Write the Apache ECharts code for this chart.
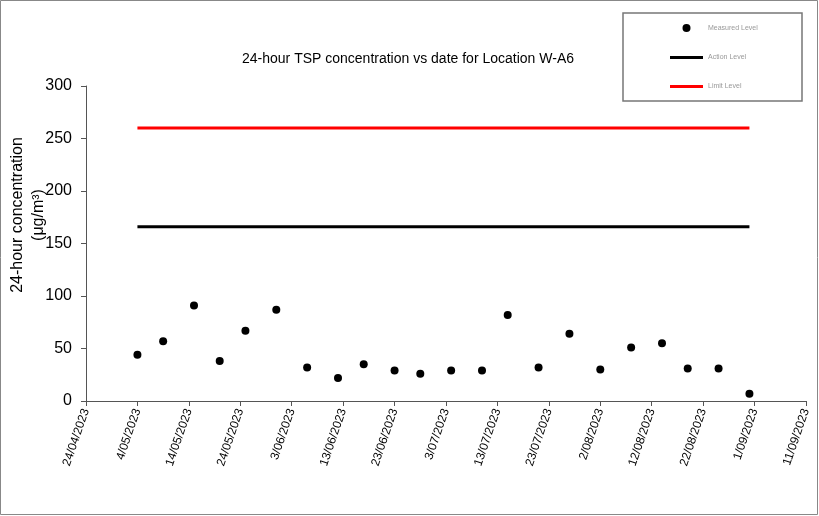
<!DOCTYPE html>
<html>
<head>
<meta charset="utf-8">
<script src="https://cdn.jsdelivr.net/npm/echarts@6/dist/echarts.min.js"></script>
<style>
html,body{margin:0;padding:0;background:#fff;}
#chart{width:819px;height:516px;}
</style>
</head>
<body>
<div id="chart"></div>
<script>
// ---- data ----
const sampleDates = ['2023-05-04','2023-05-09','2023-05-15','2023-05-20','2023-05-25','2023-05-31',
  '2023-06-06','2023-06-12','2023-06-17','2023-06-23','2023-06-28','2023-07-04','2023-07-10',
  '2023-07-15','2023-07-21','2023-07-27','2023-08-02','2023-08-08','2023-08-14','2023-08-19',
  '2023-08-25','2023-08-31'];
const measuredLevel = [44,57,91,38,67,87,32,22,35,29,26,29,29,82,32,64,30,51,55,31,31,7];
const actionLevel = 166;
const limitLevel = 260;
const axisStartDate = '2023-04-24';
const axisEndDate = '2023-09-11';
const tickDays = 10;
const yTicks = [0,50,100,150,200,250,300];

const DAY = 86400000;
function utc(s){ const p = s.split('-').map(Number); return Date.UTC(p[0], p[1]-1, p[2]); }
const base = utc(axisStartDate);
function off(s){ return Math.round((utc(s) - base) / DAY); }
function fmt(v){
  const d = new Date(base + v*DAY);
  const mm = String(d.getUTCMonth()+1).padStart(2,'0');
  return d.getUTCDate() + '/' + mm + '/' + d.getUTCFullYear();
}

const scatterData = sampleDates.map((d,i)=>[off(d), measuredLevel[i]]);
const first = off(sampleDates[0]), last = off(sampleDates[sampleDates.length-1]);

const chart = echarts.init(document.getElementById('chart'));
const axisLine = {show:true, lineStyle:{color:'#555', width:1}};
const barIcon = 'path://M0,0H100V9H0Z';
chart.setOption({
  backgroundColor:'#fff',
  animation:false,
  title:{
    text:'24-hour TSP concentration vs date for Location W-A6',
    left:403, top:47, textAlign:'center',
    textStyle:{fontFamily:'Liberation Sans, Arial', fontSize:14, fontWeight:'normal', color:'#000'}
  },
  legend:{
    orient:'vertical', left:670, top:24, padding:0, itemGap:22,
    itemWidth:33, itemHeight:8,
    textStyle:{fontFamily:'Liberation Sans, Arial', fontSize:7, color:'#999'},
    data:[{name:'Measured Level', icon:'circle'},{name:'Action Level', icon:barIcon},{name:'Limit Level', icon:barIcon}]
  },
  graphic:[
    {type:'rect', shape:{x:623, y:13, width:179, height:88}, style:{fill:'none', stroke:'#777', lineWidth:1.5}, silent:true},
    {type:'rect', shape:{x:0.5, y:0.5, width:817, height:514}, style:{fill:'none', stroke:'#888', lineWidth:1}, silent:true}
  ],
  grid:{left:86, right:13, top:86, bottom:115, containLabel:false, outerBoundsMode:'none'},
  xAxis:{
    type:'value', min:off(axisStartDate), max:off(axisEndDate), interval:tickDays,
    splitLine:{show:false}, axisLine:axisLine,
    axisTick:{show:true, length:5, lineStyle:{color:'#555'}},
    axisLabel:{rotate:71, formatter:fmt, fontFamily:'Liberation Sans, Arial', fontSize:12, color:'#000', margin:8}
  },
  yAxis:{
    type:'value', min:yTicks[0], max:yTicks[yTicks.length-1], interval:yTicks[1]-yTicks[0],
    splitLine:{show:false}, axisLine:axisLine,
    axisTick:{show:true, length:5, lineStyle:{color:'#555'}},
    axisLabel:{fontFamily:'Liberation Sans, Arial', fontSize:16, color:'#000', margin:14},
    name:'24-hour concentration\n(μg/m³)', nameLocation:'middle', nameGap:37, nameRotate:90,
    nameMoveOverlap:false,
    nameTextStyle:{fontFamily:'Liberation Sans, Arial', fontSize:16, color:'#000', lineHeight:21, padding:[0,0,0,57]}
  },
  series:[
    {name:'Measured Level', type:'scatter', data:scatterData, symbolSize:8, itemStyle:{color:'#000', opacity:1}, z:5},
    {name:'Action Level', type:'line', data:[[first,actionLevel],[last,actionLevel]], symbol:'none',
      lineStyle:{color:'#000', width:3}, itemStyle:{color:'#000'}},
    {name:'Limit Level', type:'line', data:[[first,limitLevel],[last,limitLevel]], symbol:'none',
      lineStyle:{color:'#ff0000', width:3}, itemStyle:{color:'#ff0000'}}
  ]
});
</script>
</body>
</html>
